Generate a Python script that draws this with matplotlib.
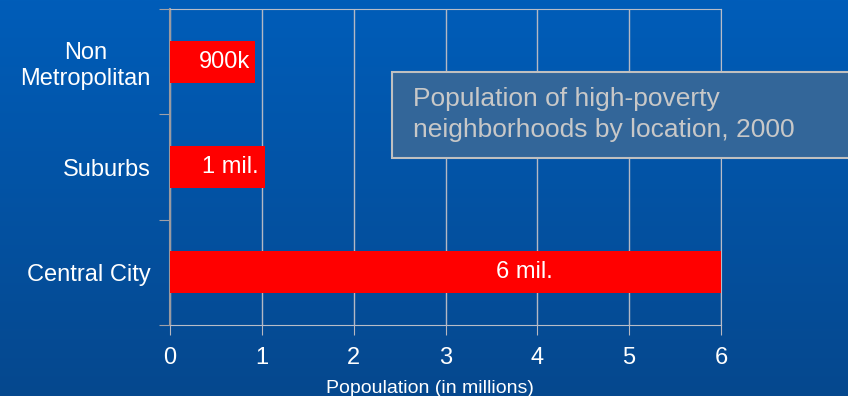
import numpy as np
import matplotlib.pyplot as plt
from matplotlib.patches import Rectangle

plt.rcParams['font.family'] = ['Liberation Sans', 'DejaVu Sans']

# data
categories = ['Non\nMetropolitan', 'Suburbs', 'Central City']
population = [0.93, 1.03, 6.0]        # millions
bar_labels = ['900k', '1 mil.', '6 mil.']
label_x = [0.87, 0.97, 3.86]
label_ha = ['right', 'right', 'center']
x_ticks = [0, 1, 2, 3, 4, 5, 6]

fig = plt.figure(figsize=(8.48, 3.96), dpi=100)

# blue gradient background
bg = fig.add_axes([0, 0, 1, 1], zorder=0)
top = np.array([0, 93, 185]) / 255
bot = np.array([6, 72, 142]) / 255
t = np.linspace(0, 1, 256)[:, None]
grad = top[None, :] * (1 - t) + bot[None, :] * t
bg.imshow(grad[:, None, :], aspect='auto', extent=[0, 1, 0, 1])
bg.axis('off')

ax = fig.add_axes([170 / 848, 1 - 325 / 396, 551 / 848, 316 / 396], zorder=1)
ax.patch.set_alpha(0)

ypos = np.arange(len(categories))[::-1]
ax.barh(ypos, population, height=0.4, color='#ff0000', zorder=3)

for y, lab, lx, ha in zip(ypos, bar_labels, label_x, label_ha):
    ax.text(lx, y, lab, ha=ha, va='center', color='white', fontsize=17, zorder=4)

ax.set_xlim(0, 6)
ax.set_ylim(-0.5, 2.5)
ax.set_xticks(x_ticks)
ax.set_xticklabels([str(v) for v in x_ticks], color='white', fontsize=17)
ax.tick_params(axis='x', length=7, color='#b8b8c0', pad=9)

# y ticks at band edges, labels at band centres
ax.set_yticks([-0.5, 0.5, 1.5, 2.5])
ax.set_yticklabels([])
ax.tick_params(axis='y', length=8, color='#a0a0a8')
ax.set_yticks(ypos, minor=True)
ax.set_yticklabels(categories, minor=True, color='white', fontsize=17,
                   multialignment='center')
ax.tick_params(axis='y', which='minor', length=0, pad=14)

ax.grid(axis='x', color='#b4b8c4', linewidth=1, zorder=1)
for s in ['top', 'right', 'bottom']:
    ax.spines[s].set_color('#b8bcc8')
ax.spines['left'].set_color('#9a9aa0')
ax.spines['left'].set_linewidth(1.5)

fig.text(430 / 848, 1 - 393 / 396, 'Popoulation (in millions)', ha='center',
         va='baseline', color='white', fontsize=14)

# title box
box = Rectangle((392 / 848, 1 - 158 / 396), 0.6, 86 / 396, transform=fig.transFigure,
                facecolor='#336699', edgecolor='#c0c0c0', linewidth=1.5, zorder=5)
fig.add_artist(box)
fig.text(413 / 848, 1 - 87 / 396, 'Population of high-poverty\nneighborhoods by location, 2000',
         ha='left', va='top', color='#c8c8c8', fontsize=19, linespacing=1.35, zorder=6)

fig.savefig('out.png', dpi=100)
